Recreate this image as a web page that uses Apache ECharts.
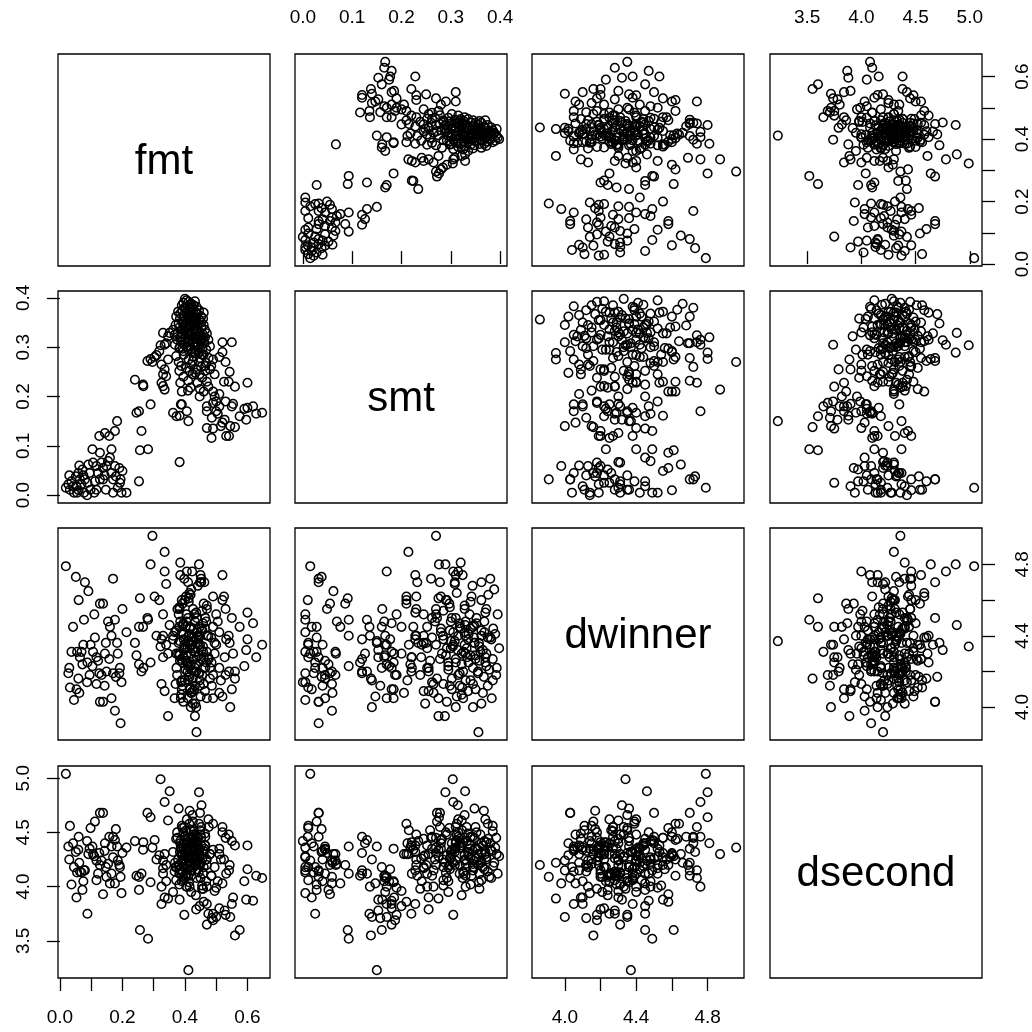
<!DOCTYPE html>
<html><head><meta charset="utf-8">
<script src="https://cdn.jsdelivr.net/npm/echarts@6/dist/echarts.min.js"></script>
<style>html,body{margin:0;padding:0;background:#fff}#c{width:1032px;height:1032px}</style>
</head><body><div id="c"></div>
<script>
const varNames = ['fmt', 'smt', 'dwinner', 'dsecond'];

const fmt = [
  // low group
  0.019,0.027,0.037,0.045,0.051,0.059,0.064,0.072,0.077,0.087,
  0.091,0.098,0.104,0.112,0.117,0.126,0.128,0.133,0.138,0.144,
  0.147,0.154,0.160,0.165,0.165,0.170,0.176,0.179,0.183,0.190,
  0.194,0.197,0.200,0.213,0.032,0.053,0.069,0.080,0.106,0.117,
  0.128,0.138,0.149,0.176,0.192,0.055,0.088,0.170,0.158,
  0.030,0.042,0.062,0.075,0.095,0.110,0.122,0.143,0.185,0.060,
  // middle group
  0.240,0.253,0.245,0.266,0.261,0.256,0.282,0.253,0.290,0.280,
  0.290,0.296,0.303,0.309,0.318,0.322,0.335,0.340,0.330,0.351,
  0.346,0.325,0.335,0.346,0.325,0.330,0.335,0.330,0.340,0.362,
  0.373,0.383,0.383,0.390,0.411,0.390,0.410,0.267,0.406,0.387,
  // high-fmt group
  0.520,0.550,0.520,0.510,0.543,0.530,0.560,0.600,0.470,0.490,
  0.470,0.495,0.470,0.485,0.486,0.500,0.510,0.505,0.515,0.520,
  0.527,0.532,0.541,0.550,0.554,0.575,0.596,0.600,0.618,0.647,
  0.447,0.460,0.475,0.490,0.500,0.510,0.447,0.465,0.480,0.495,
  0.560,0.590,0.540,0.525,0.545,0.490,0.628,0.530,
  // core group
  0.400,0.405,0.412,0.395,0.420,0.428,0.408,0.437,0.398,0.416,0.432,0.390,
  0.378,0.385,0.392,0.400,0.406,0.413,0.420,0.426,0.433,0.440,
  0.446,0.452,0.458,0.437,0.395,0.402,0.418,0.430,0.445,0.384,
  0.410,0.425,0.460,0.372,0.415,
  0.362,0.370,0.376,0.382,0.388,0.394,0.398,0.403,0.408,0.414,
  0.419,0.424,0.430,0.435,0.441,0.447,0.452,0.458,0.464,0.470,
  0.380,0.392,0.405,0.417,0.428,0.438,0.450,0.460,0.367,0.412,
  0.368,0.375,0.382,0.388,0.395,0.402,0.408,0.414,0.420,0.426,
  0.432,0.438,0.444,0.450,0.456,0.462,0.468,0.475,0.480,0.385,
  0.398,0.410,0.423,0.436,0.453,0.458,0.417,0.392,
  0.372,0.380,0.388,0.396,0.404,0.412,0.420,0.428,0.436,0.444,
  0.452,0.460,0.468,0.476,0.484,0.490,0.445,0.415,0.432,0.448,
  0.465,0.382,0.425,0.455,
  0.395,0.410,0.425,0.440,0.455,0.470,0.418,0.448,0.385,0.433,
  0.404,0.416,0.428,0.440,0.396,0.422,0.408,0.432,0.444,0.390,
  0.420,0.452,0.400,0.436,0.412,0.426,0.448,0.384,0.464,0.418
];

const smt = [
  0.015,0.022,0.028,0.005,0.038,0.045,0.032,0.052,0.005,0.000,
  0.062,0.011,0.093,0.028,0.011,0.120,0.086,0.066,0.032,0.126,
  0.011,0.069,0.076,0.093,0.045,0.005,0.130,0.038,0.150,0.055,
  0.032,0.005,0.049,0.005,0.011,0.018,0.022,0.032,0.066,0.059,
  0.032,0.055,0.059,0.059,0.025,0.005,0.025,0.032,0.120,
  0.040,0.018,0.060,0.040,0.045,0.005,0.045,0.040,0.015,0.010,
  0.234,0.170,0.167,0.224,0.130,0.091,0.093,0.028,0.184,0.272,
  0.276,0.270,0.280,0.284,0.292,0.304,0.305,0.308,0.329,0.329,
  0.322,0.265,0.255,0.275,0.228,0.221,0.214,0.245,0.241,0.167,
  0.160,0.161,0.067,0.184,0.150,0.210,0.212,0.221,0.170,0.184,
  0.310,0.310,0.290,0.280,0.250,0.270,0.220,0.228,0.180,0.187,
  0.170,0.200,0.136,0.116,0.157,0.170,0.180,0.165,0.140,0.147,
  0.153,0.120,0.120,0.180,0.185,0.160,0.153,0.177,0.180,0.167,
  0.200,0.210,0.220,0.210,0.190,0.205,0.245,0.262,0.255,0.245,
  0.138,0.175,0.230,0.230,0.140,0.135,0.165,0.190,
  0.398,0.395,0.392,0.390,0.388,0.385,0.383,0.382,0.380,0.386,0.393,0.385,
  0.372,0.368,0.375,0.362,0.370,0.357,0.365,0.372,0.360,0.368,
  0.355,0.362,0.358,0.356,0.352,0.378,0.376,0.350,0.375,0.358,
  0.352,0.362,0.370,0.362,0.367,
  0.335,0.345,0.328,0.340,0.322,0.347,0.332,0.342,0.325,0.336,
  0.345,0.328,0.338,0.322,0.344,0.330,0.340,0.326,0.335,0.328,
  0.348,0.336,0.330,0.323,0.347,0.333,0.324,0.345,0.325,0.340,
  0.305,0.315,0.298,0.310,0.292,0.318,0.300,0.312,0.295,0.308,
  0.318,0.302,0.290,0.312,0.298,0.308,0.295,0.315,0.302,0.320,
  0.305,0.295,0.315,0.310,0.314,0.318,0.302,0.297,
  0.282,0.270,0.262,0.285,0.258,0.275,0.265,0.280,0.255,0.270,
  0.260,0.285,0.268,0.278,0.262,0.275,0.289,0.252,0.288,0.278,
  0.252,0.252,0.272,0.285,
  0.240,0.232,0.245,0.228,0.238,0.230,0.218,0.215,0.228,0.248,
  0.350,0.345,0.355,0.348,0.365,0.380,0.310,0.300,0.318,0.328,
  0.330,0.350,0.340,0.370,0.362,0.292,0.298,0.300,0.320,0.372
];

const dwinner = [
  4.79,4.19,4.31,4.04,4.73,4.16,4.28,4.24,4.49,4.14,
  4.65,4.35,4.23,4.39,4.28,4.19,4.58,4.18,4.03,4.30,
  4.36,4.48,4.45,4.40,4.05,4.19,4.49,4.17,4.36,4.19,
  3.91,4.14,4.55,4.42,4.11,4.10,4.31,4.70,4.31,4.13,
  4.03,4.58,4.20,3.98,4.22,4.31,4.25,4.72,4.27,
  4.22,4.45,4.08,4.35,4.18,4.52,4.26,4.12,4.30,4.60,
  4.36,4.24,4.29,4.45,4.20,4.61,4.49,4.45,4.25,4.50,
  4.80,4.96,4.62,4.40,4.60,4.34,4.76,4.69,4.40,4.46,
  4.30,4.13,4.09,3.95,4.38,4.28,4.87,4.52,4.35,4.40,
  4.22,4.55,4.30,4.10,4.37,4.60,4.15,4.22,4.76,4.05,
  4.74,4.50,4.60,4.42,4.36,4.55,4.20,4.53,4.31,4.18,
  4.05,4.30,4.40,4.25,4.12,4.35,4.22,4.48,4.15,4.06,
  4.28,4.38,4.20,4.10,4.30,4.45,4.32,4.38,4.47,4.35,
  4.45,4.58,4.28,4.62,4.52,4.08,4.40,4.50,4.22,4.36,
  4.16,4.23,4.40,4.62,4.00,4.45,4.28,4.18,
  4.33,4.52,4.18,4.41,4.66,4.27,4.05,4.38,4.72,4.44,4.22,4.15,
  4.30,4.48,4.12,4.60,4.25,4.36,4.08,4.55,4.31,4.42,
  4.19,4.70,4.34,3.86,4.47,4.21,4.63,4.10,4.39,4.26,
  4.50,4.02,4.28,4.43,4.17,
  4.38,4.13,4.55,4.29,4.07,4.46,4.33,4.62,4.20,4.41,
  4.00,4.35,4.52,4.24,4.68,4.15,4.44,4.31,4.09,4.57,
  4.36,4.25,4.48,4.11,4.39,4.28,4.74,4.22,4.05,4.59,
  4.42,4.18,4.56,4.27,4.03,4.45,4.33,4.64,4.21,4.37,
  4.12,4.50,4.29,4.06,4.43,4.70,4.25,4.40,4.16,4.81,
  4.35,4.23,4.76,4.00,4.32,4.47,4.10,4.58,
  4.30,4.52,4.14,4.38,4.26,4.61,4.08,4.44,4.20,4.35,
  4.72,4.13,4.48,4.27,4.39,4.05,4.80,4.33,3.95,4.70,
  4.22,4.45,4.16,4.54,
  4.28,4.70,4.09,4.40,4.18,4.55,4.24,4.35,4.74,4.02,
  4.29,4.45,4.20,4.36,4.32,4.39,4.25,4.48,4.19,4.42,
  4.30,4.27,4.15,4.53,4.40,4.33,4.12,4.37,4.44,4.23
];

const dsecond = [
  5.04,4.37,4.02,4.18,4.32,4.34,4.14,3.97,4.15,4.42,
  4.30,4.54,4.37,4.60,4.06,4.31,4.20,4.24,4.68,4.40,
  4.18,4.21,4.03,4.12,4.37,4.27,4.43,4.53,4.37,4.20,
  4.09,3.94,4.31,4.36,4.56,3.90,4.13,4.15,4.30,4.24,
  4.68,3.93,4.09,4.03,4.18,4.13,3.75,4.46,4.46,
  4.25,4.40,4.22,4.05,4.35,4.28,4.12,4.33,4.24,4.46,
  4.42,4.09,4.10,4.34,4.12,3.60,3.52,3.97,4.04,4.68,
  4.64,4.36,4.43,4.25,4.29,4.99,4.78,4.20,4.24,4.88,
  4.61,4.00,3.90,3.89,3.84,4.12,4.30,4.17,4.05,3.95,
  4.18,3.88,4.20,4.05,3.23,4.30,4.40,4.41,4.00,4.35,
  4.55,4.42,4.50,4.35,4.20,4.45,4.38,4.38,3.65,3.69,
  3.84,3.96,4.00,4.10,3.71,3.72,3.80,4.05,4.25,4.03,
  3.78,4.12,4.15,3.84,3.90,3.60,3.88,4.16,3.87,4.08,
  3.82,3.86,3.75,4.58,3.99,4.30,4.28,4.46,4.30,4.18,
  3.55,4.05,4.48,4.25,3.72,3.75,4.10,3.74,
  4.28,4.12,4.45,4.36,4.22,4.51,4.33,4.08,4.40,4.19,4.30,4.56,
  4.25,4.42,4.14,4.31,4.62,4.04,4.38,4.27,4.48,4.16,
  4.34,4.22,3.98,4.20,4.50,4.09,4.44,4.36,4.58,4.12,
  4.26,4.40,4.30,4.06,4.70,
  4.32,4.18,4.45,4.02,4.36,4.24,4.55,4.10,4.41,4.28,
  4.15,4.66,4.35,3.92,4.46,4.21,4.38,4.12,4.49,4.25,
  4.72,4.30,4.00,4.52,4.18,4.42,4.08,4.33,4.14,4.27,
  4.22,4.50,4.16,4.36,4.08,4.44,4.27,4.58,3.95,4.32,
  4.20,4.40,4.13,4.48,4.26,4.35,4.05,4.62,4.30,4.40,
  3.74,4.18,4.46,4.24,4.75,4.12,4.34,4.54,
  4.44,4.20,4.35,4.06,4.52,4.28,4.15,4.40,3.79,4.31,
  4.45,4.18,4.25,4.55,4.10,4.34,4.87,4.00,4.22,4.68,
  4.38,4.12,4.60,4.01,
  4.26,4.10,4.44,4.32,3.98,4.20,4.36,4.52,4.15,4.29,
  4.35,4.21,4.30,4.45,4.18,4.34,4.40,4.27,4.36,4.29,
  4.10,4.55,4.46,4.32,4.24,4.48,4.20,4.32,4.38,4.41
];

const tickValues = [
  [0, 0.1, 0.2, 0.3, 0.4, 0.5, 0.6],
  [0, 0.1, 0.2, 0.3, 0.4],
  [4.0, 4.2, 4.4, 4.6, 4.8],
  [3.5, 4.0, 4.5, 5.0]
];
const labelValues = [
  [0, 0.2, 0.4, 0.6],
  [0, 0.1, 0.2, 0.3, 0.4],
  [4.0, 4.4, 4.8],
  [3.5, 4.0, 4.5, 5.0]
];

const vars = [fmt, smt, dwinner, dsecond];
const FONT = '"Liberation Sans", Arial, Helvetica, sans-serif';
const panelLeft = [58, 295, 532, 770];
const panelTop = [54, 291, 528, 766];
const panelSize = 212;

// axis ranges like R: data range extended by 4% on each side
const ranges = vars.map(v => {
  const lo = Math.min.apply(null, v), hi = Math.max.apply(null, v);
  const d = (hi - lo) * 0.04;
  return [lo - d, hi + d];
});

const grids = [], xAxes = [], yAxes = [], series = [], graphics = [];
const fmtLabel = v => Number(v).toFixed(1);

for (let i = 0; i < 4; i++) {
  for (let j = 0; j < 4; j++) {
    const idx = i * 4 + j;
    grids.push({
      left: panelLeft[j], top: panelTop[i], width: panelSize, height: panelSize,
      show: true, borderColor: '#000', borderWidth: 1.3, backgroundColor: 'transparent',
      containLabel: false
    });
    const showX = i !== j && ((j % 2 === 0 && i === 3) || (j % 2 === 1 && i === 0));
    const showY = i !== j && ((i % 2 === 1 && j === 0) || (i % 2 === 0 && j === 3));
    xAxes.push({
      gridIndex: idx, type: 'value', min: ranges[j][0], max: ranges[j][1],
      position: j % 2 === 0 ? 'bottom' : 'top',
      axisLine: { show: false }, splitLine: { show: false },
      axisTick: { show: showX, length: 13, inside: false, customValues: tickValues[j],
        lineStyle: { color: '#000', width: 1.3 } },
      axisLabel: { show: showX, customValues: labelValues[j], formatter: fmtLabel,
        margin: j % 2 === 0 ? 30 : 27, fontSize: 19, color: '#000', fontFamily: FONT }
    });
    yAxes.push({
      gridIndex: idx, type: 'value', min: ranges[i][0], max: ranges[i][1],
      position: i % 2 === 0 ? 'right' : 'left',
      axisLine: { show: false }, splitLine: { show: false },
      axisTick: { show: showY, length: 13, inside: false, customValues: tickValues[i],
        lineStyle: { color: '#000', width: 1.3 } },
      axisLabel: { show: showY, customValues: labelValues[i], formatter: fmtLabel, rotate: 90,
        margin: i % 2 === 0 ? 31 : 25, fontSize: 19, color: '#000', fontFamily: FONT }
    });
    if (i !== j) {
      series.push({
        type: 'scatter', xAxisIndex: idx, yAxisIndex: idx,
        data: vars[j].map((v, k) => [v, vars[i][k]]),
        symbol: 'circle', symbolSize: 8.6,
        itemStyle: { color: 'rgba(0,0,0,0)', borderColor: '#000', borderWidth: 1.5, opacity: 1 },
        silent: true, animation: false
      });
    } else {
      graphics.push({
        type: 'text', x: panelLeft[j] + panelSize / 2, y: panelTop[i] + panelSize / 2 + 2,
        silent: true, z: 10,
        style: { text: varNames[i], font: '42px ' + FONT, fill: '#000',
          textAlign: 'center', textVerticalAlign: 'middle', align: 'center', verticalAlign: 'middle' }
      });
    }
  }
}

const chart = echarts.init(document.getElementById('c'), null, { renderer: 'canvas' });
chart.setOption({
  backgroundColor: '#fff',
  animation: false,
  textStyle: { fontFamily: FONT },
  grid: grids, xAxis: xAxes, yAxis: yAxes, series: series,
  graphic: graphics
});
</script>
</body></html>
